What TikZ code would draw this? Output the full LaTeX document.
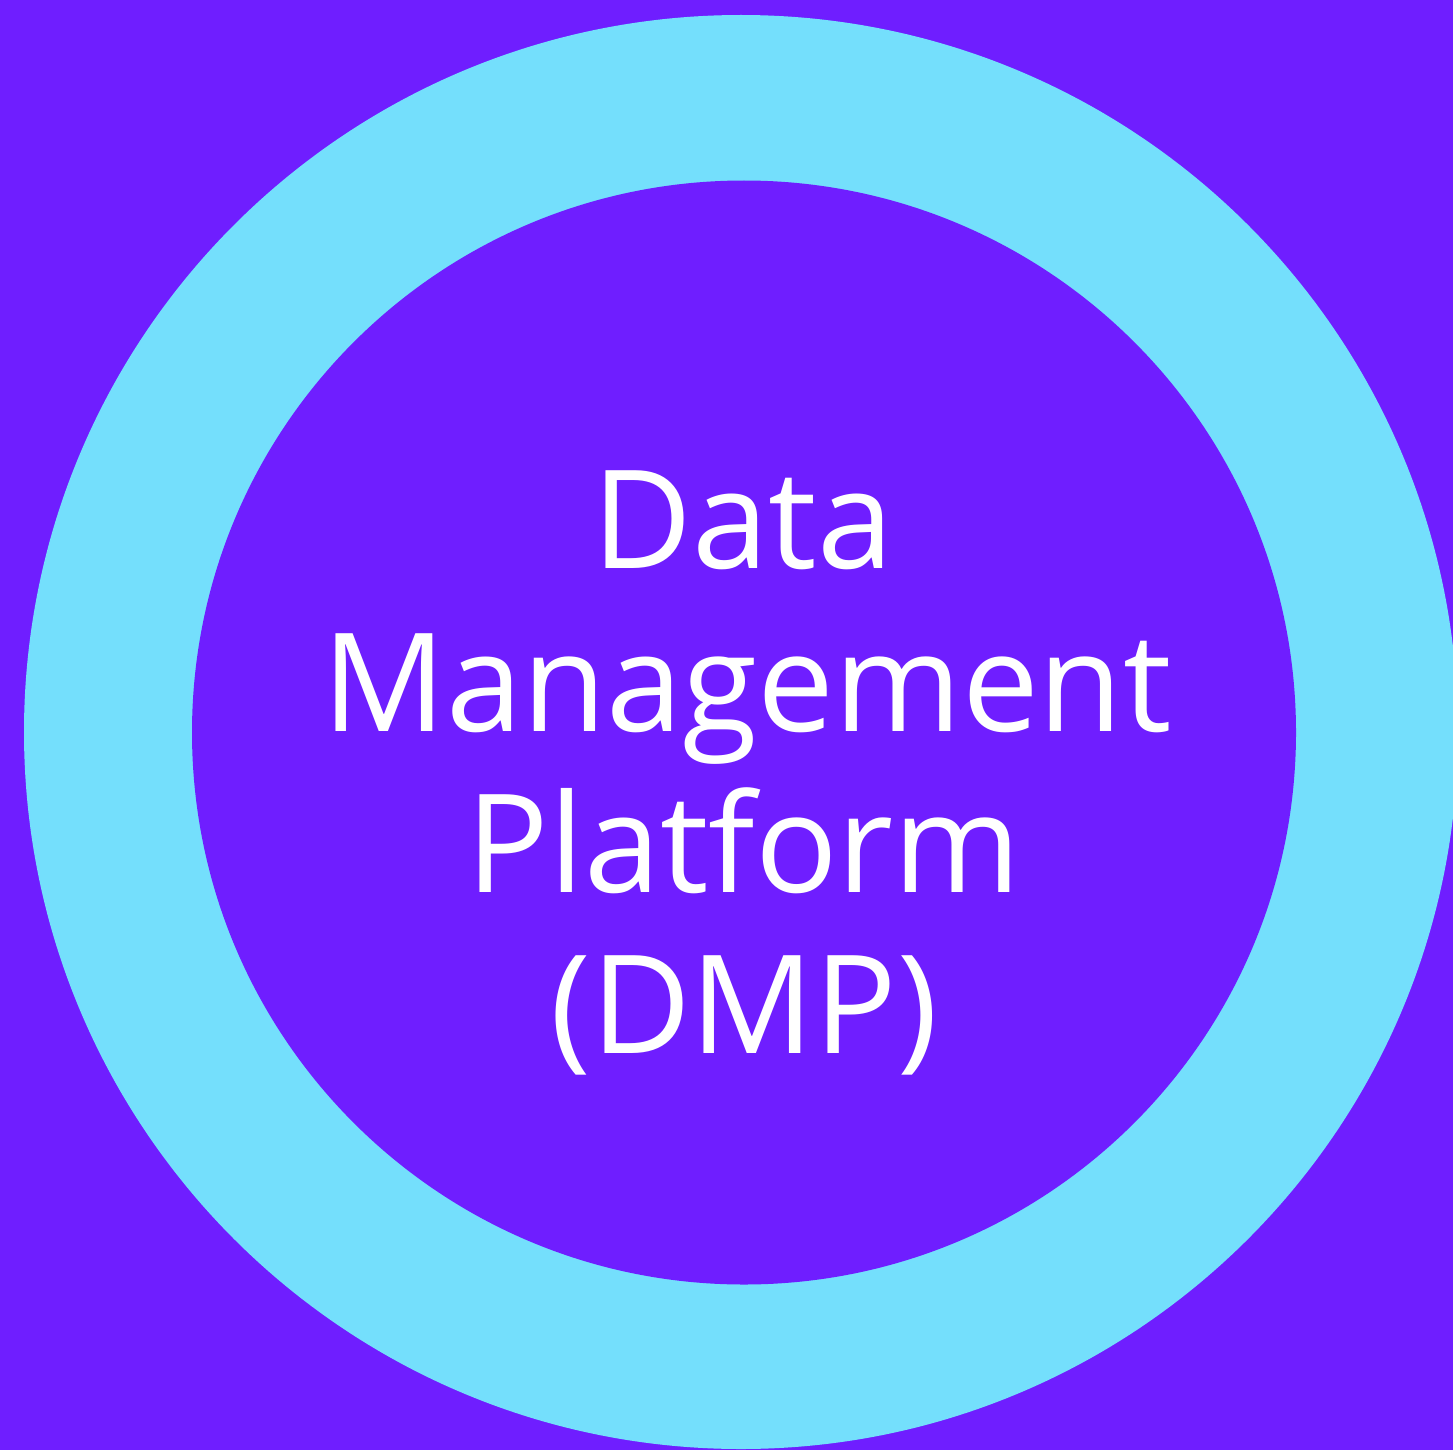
\documentclass[tikz,border=0pt]{standalone}
\usepackage{fontspec}
\setmainfont{Open Sans}
\definecolor{bgpurple}{RGB}{111,30,255}
\definecolor{ringcyan}{RGB}{116,223,252}
\tikzset{
  label text/.style={text=white, anchor=base, inner sep=0pt, font=\fontsize{137}{160}\selectfont}
}
\begin{document}
\begin{tikzpicture}[x=1pt,y=-1pt]
\useasboundingbox (0,0) rectangle (1453,1450);
\fill[bgpurple] (0,0) rectangle (1453,1450);
\begin{scope}
\clip (0,0) rectangle (1453,1450);
\fill[ringcyan] (741,732) circle[radius=717];
\end{scope}
\fill[bgpurple] (744,732.5) circle[radius=552];
\node[label text] (l1) at (743,568) {Data};
\node[label text] (l2) at (747,731) {Management};
\node[label text] (l3) at (744,892) {Platform};
\node[label text] (l4) at (744,1053) {(DMP)};
\end{tikzpicture}
\end{document}
